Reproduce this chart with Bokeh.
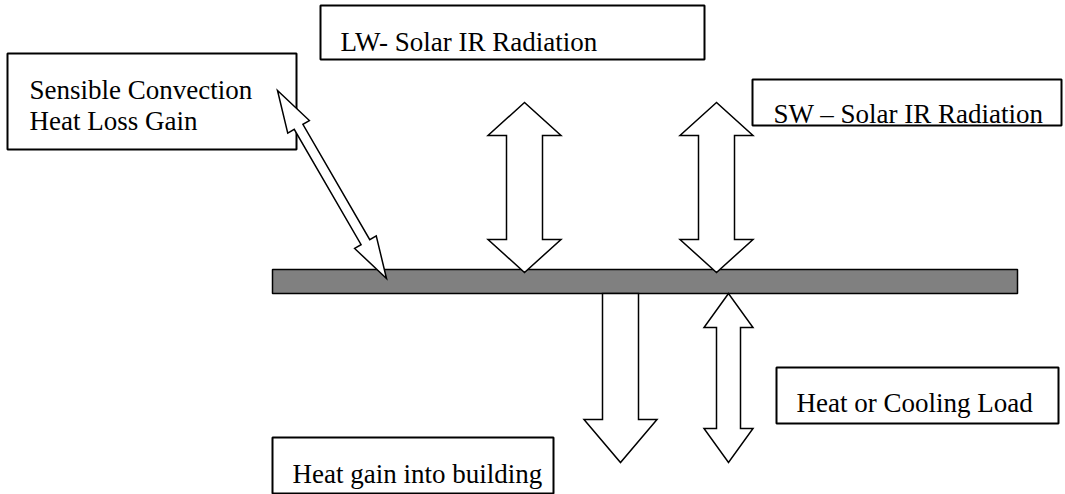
import numpy as np
from bokeh.plotting import figure
from bokeh.models import Range1d
from bokeh.core.properties import value
from bokeh.embed import file_html
from bokeh.resources import INLINE

# ---- diagram data (reference pixel coordinates, y grows downward) ----
box_left = [320, 7, 752, 776, 272]
box_right = [704, 296, 1061, 1058, 553]
box_top = [5, 53, 79, 367, 437]
box_bottom = [59, 149, 125, 423, 493]

label_text = ["LW- Solar IR Radiation", "Sensible Convection", "Heat Loss Gain",
              "SW \u2013 Solar IR Radiation", "Heat or Cooling Load", "Heat gain into building"]
label_x = [340, 29, 29, 773, 796, 292]
label_y = [41, 89, 120, 113, 402, 473]

bar_left = [272]
bar_right = [1017]
bar_top = [269]
bar_bottom = [293]

arrow_tail_x = [524, 716, 620, 728, 277]
arrow_tail_y = [102, 102, 293, 293, 90]
arrow_tip_x = [524, 716, 620, 728, 386]
arrow_tip_y = [272, 272, 462, 462, 278]
arrow_head_len = [33, 33, 43, 34, 42]
arrow_head_half = [36.5, 36.5, 36.5, 24.5, 12.5]
arrow_shaft_half = [18, 18, 18, 12, 5]
arrow_double = [True, True, False, True, True]


def arrow_polygon(x0, y0, x1, y1, hl, hw, sw, double):
    t = np.array([x0, y0], float)
    e = np.array([x1, y1], float)
    u = (e - t) / np.linalg.norm(e - t)
    n = np.array([-u[1], u[0]])
    b2 = e - u * hl
    if double:
        b1 = t + u * hl
        pts = [t, b1 + n * hw, b1 + n * sw, b2 + n * sw, b2 + n * hw, e,
               b2 - n * hw, b2 - n * sw, b1 - n * sw, b1 - n * hw]
    else:
        pts = [t + n * sw, b2 + n * sw, b2 + n * hw, e, b2 - n * hw, b2 - n * sw, t - n * sw]
    return [p[0] for p in pts], [p[1] for p in pts]


W, H = 1065, 494
p = figure(width=W, height=H, output_backend="svg", toolbar_location=None,
           x_range=Range1d(0, W), y_range=Range1d(H, 0),
           min_border=0)
p.axis.visible = False
p.xgrid.visible = False
p.ygrid.visible = False
p.outline_line_color = None
p.background_fill_color = "white"
p.border_fill_color = "white"

# boxes
p.quad(left=box_left, right=box_right, top=box_top, bottom=box_bottom,
       fill_color="white", line_color="black", line_width=2)

# bar
p.quad(left=bar_left, right=bar_right, top=bar_top, bottom=bar_bottom,
       fill_color="#808080", line_color="black", line_width=1.5)

# arrows
xs, ys = [], []
for i in range(len(arrow_tail_x)):
    ax, ay = arrow_polygon(arrow_tail_x[i], arrow_tail_y[i], arrow_tip_x[i], arrow_tip_y[i],
                           arrow_head_len[i], arrow_head_half[i], arrow_shaft_half[i],
                           arrow_double[i])
    xs.append(ax)
    ys.append(ay)
p.patches(xs=xs, ys=ys, fill_color="white", line_color="black", line_width=1.5,
          line_join="miter")

# labels
p.text(x=label_x, y=label_y, text=label_text, text_font=value("Liberation Serif"),
       text_font_size="27px", text_color="black", text_baseline="alphabetic", text_align="left")

open("out.html", "w").write(file_html(p, INLINE))
